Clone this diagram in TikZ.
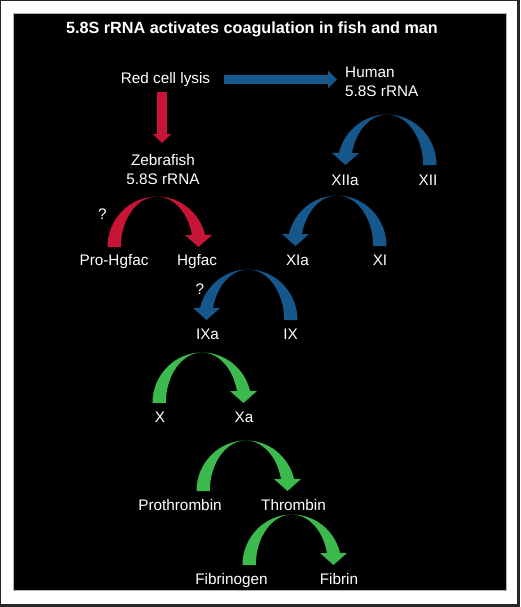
\documentclass[tikz,border=0pt]{standalone}
\usepackage{fontspec}
\setmainfont{Liberation Sans}
\usetikzlibrary{arrows.meta}
\definecolor{cred}{RGB}{200,21,55}
\definecolor{cblue}{RGB}{22,88,140}
\definecolor{cgreen}{RGB}{61,186,78}
\newcommand\cArrow[4]{%
  \begin{scope}[shift={(#1,#2)},xscale=#4,yscale=-1]
    \fill[#3] (-49.5,0) arc[start angle=180,end angle=90,x radius=49.5,y radius=50.5]
      arc[start angle=90,end angle=13.8,x radius=49.5,y radius=50.5]
      -- (55,12) -- (41.5,0) -- (28,12) -- (35,12)
      arc[start angle=13.8,end angle=90,x radius=36.1,y radius=50.5]
      arc[start angle=90,end angle=180,x radius=36.1,y radius=50.5] -- cycle;
  \end{scope}}
\tikzset{
  lbl/.style={text=white, inner sep=0pt, anchor=base, font=\fontsize{15.3}{18}\selectfont},
  ttl/.style={text=white, inner sep=0pt, anchor=base, font=\bfseries\fontsize{16.2}{19}\selectfont},
}
\begin{document}
\begin{tikzpicture}[x=1pt,y=-1pt]
\useasboundingbox (0,0) rectangle (520,607);
\fill[black!85] (0,0) rectangle (520,607);
\fill[white] (1,1) rectangle (517,604);
\fill[black] (13.5,13.5) rectangle (506.5,590.5);
\draw[gray!60, line width=0.5pt] (13.5,13.5) rectangle (506.5,590.5);
% title
\node[ttl] (title) at (252,33.3) {5.8S rRNA activates coagulation in fish and man};
% labels
\node[lbl] (lysis) at (165.5,83.3) {Red cell lysis};
\node[lbl, anchor=base west] (human) at (345,77.3) {Human};
\node[lbl, anchor=base west] (human2) at (345,96.7) {5.8S rRNA};
\node[lbl] (zebra) at (163,165.7) {Zebrafish};
\node[lbl] (zebra2) at (163,184.5) {5.8S rRNA};
\node[lbl] (xiia) at (345,185.5) {XIIa};
\node[lbl] (xii) at (428,185.5) {XII};
\node[lbl] (prohg) at (114,265.7) {Pro-Hgfac};
\node[lbl] (hg) at (197,265.7) {Hgfac};
\node[lbl] (xia) at (297.5,265.7) {XIa};
\node[lbl] (xi) at (380,265.7) {XI};
\node[lbl] (q1) at (102.3,219) {?};
\node[lbl] (q2) at (200,294) {?};
\node[lbl] (ixa) at (207.5,339.3) {IXa};
\node[lbl] (ix) at (290.5,339.3) {IX};
\node[lbl] (x) at (160,422.3) {X};
\node[lbl] (xa) at (244,422.3) {Xa};
\node[lbl] (proth) at (180,510) {Prothrombin};
\node[lbl] (thr) at (293.5,510) {Thrombin};
\node[lbl] (fbg) at (231.5,584) {Fibrinogen};
\node[lbl] (fbn) at (339,584) {Fibrin};
% straight arrows
\coordinate (hs) at (224,79.5);
\coordinate (he) at (337,79.5);
\coordinate (zs) at (162,92);
\coordinate (ze) at (162,143);
\draw[cblue, line width=9pt, -{Triangle[length=9pt,width=17pt]}] (hs) -- (he);
\draw[cred, line width=10pt, -{Triangle[length=9pt,width=18pt]}] (zs) -- (ze);
% curved arrows
\cArrow{157}{247}{cred}{1}
\cArrow{387}{165}{cblue}{-1}
\cArrow{337}{246}{cblue}{-1}
\cArrow{248}{320}{cblue}{-1}
\cArrow{202}{403}{cgreen}{1}
\cArrow{246}{491}{cgreen}{1}
\cArrow{292}{565}{cgreen}{1}
\end{tikzpicture}
\end{document}
